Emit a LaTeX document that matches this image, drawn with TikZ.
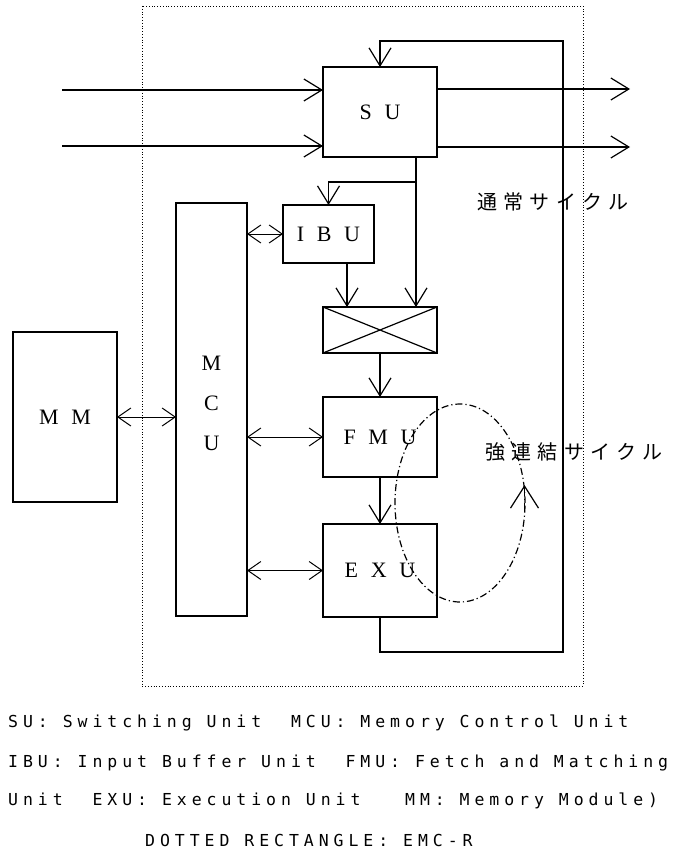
\documentclass[tikz,border=0pt]{standalone}
\usepackage{fontspec}
\setmainfont{Liberation Serif}
\newfontfamily\unitfont{Liberation Serif}[WordSpace=2.3]
\newfontfamily\jpfont{Noto Sans CJK JP}[LetterSpace=32]
\newfontfamily\notefont{DejaVu Sans Mono}[LetterSpace=30]
\usetikzlibrary{arrows.meta}

\begin{document}
\begin{tikzpicture}[x=1pt, y=-1pt,
    unit/.style={draw, line width=1.8pt, inner sep=0pt, outer sep=0pt, align=center,
                 font=\unitfont\fontsize{22}{40}\selectfont},
    arr/.style={-{Straight Barb[length=18pt,width=22pt]}, line width=1.2pt},
    darr/.style={{Straight Barb[length=13pt,width=18pt]}-{Straight Barb[length=13pt,width=18pt]}, line width=1pt},
    cyc/.style={dash pattern=on 7pt off 3pt on 1.2pt off 3pt, line width=1.2pt},
    jp/.style={anchor=west, inner sep=0pt, font=\jpfont\fontsize{20}{20}\selectfont},
    note/.style={anchor=base west, inner sep=0pt, font=\notefont\fontsize{16.5}{16.5}\selectfont}
  ]
  \useasboundingbox (0,0) rectangle (688,851);

  % EMC-R
  \draw[dotted, line width=0.8pt] (142,6) rectangle (583,686);

  \node[unit, minimum width=114pt, minimum height=90pt] (su)   at (380,112)   {S U};
  \node[unit, minimum width=91pt,  minimum height=58pt] (ibu)  at (328.5,234) {I B U};
  \node[unit, minimum width=114pt, minimum height=46pt] (xbar) at (380,330)   {};
  \node[unit, minimum width=114pt, minimum height=80pt] (fmu)  at (380,437)   {F M U};
  \node[unit, minimum width=114pt, minimum height=93pt] (exu)  at (380,570.5) {E X U};
  \node[unit, minimum width=71pt,  minimum height=413pt] (mcu) at (211.5,409.5) {M\\C\\U\\[-28pt]};
  \node[unit, line width=1.2pt, minimum width=104pt, minimum height=170pt] (mm) at (65,417) {M M};

  \draw[line width=1.2pt] (xbar.north west) -- (xbar.south east)
                          (xbar.south west) -- (xbar.north east);

  % inputs and outputs of SU
  \coordinate (in1)  at (62,90);
  \coordinate (in2)  at (62,146);
  \coordinate (out1) at (630,89);
  \coordinate (out2) at (630,147);
  \draw[arr] (in1) -- (in1 -| su.west);
  \draw[arr] (in2) -- (in2 -| su.west);
  \draw[arr] (out1 -| su.east) -- (out1);
  \draw[arr] (out2 -| su.east) -- (out2);

  % normal cycle
  \coordinate (fbB) at (563,652);
  \coordinate (fbT) at (563,41);
  \draw[arr] (exu.south) |- (fbB) -- (fbT) -| (su.north);

  \coordinate (tap) at (416,182);
  \draw[arr] (su.south -| tap) -- (xbar.north -| tap);
  \draw[arr] (tap) -| (ibu.north);
  \draw[arr] ([xshift=18.5pt]ibu.south) -- ([xshift=18.5pt]ibu.south |- xbar.north);
  \draw[arr] (xbar) -- (fmu);
  \draw[arr] (fmu) -- (exu);

  % memory side
  \draw[darr] (mm.east) -- (mm.east -| mcu.west);
  \draw[darr] (mcu.east |- ibu.west) -- (ibu.west);
  \draw[darr] (mcu.east |- fmu.west) -- (fmu.west);
  \draw[darr] (mcu.east |- exu.west) -- (exu.west);

  % strongly connected cycle
  \draw[cyc] (460,503) ellipse [x radius=65pt, y radius=99pt];
  \draw[cyc, -{Straight Barb[length=22pt,width=28pt]}] (524.5,510) -- (524.5,485);

  \node[jp] (normal) at (477,202) {通常サイクル};
  \node[jp] (strong) at (485,452) {強連結サイクル};

  \node[note] (n1) at (8,727)   {SU: Switching Unit\ \ MCU: Memory Control Unit};
  \node[note] (n2) at (8,767)   {IBU: Input Buffer Unit\ \ FMU: Fetch and Matching};
  \node[note] (n3) at (8,805)   {Unit\ \ EXU: Execution Unit\ \ \ MM: Memory Module)};
  \node[note] (n4) at (145,846) {DOTTED RECTANGLE: EMC-R};
\end{tikzpicture}
\end{document}
